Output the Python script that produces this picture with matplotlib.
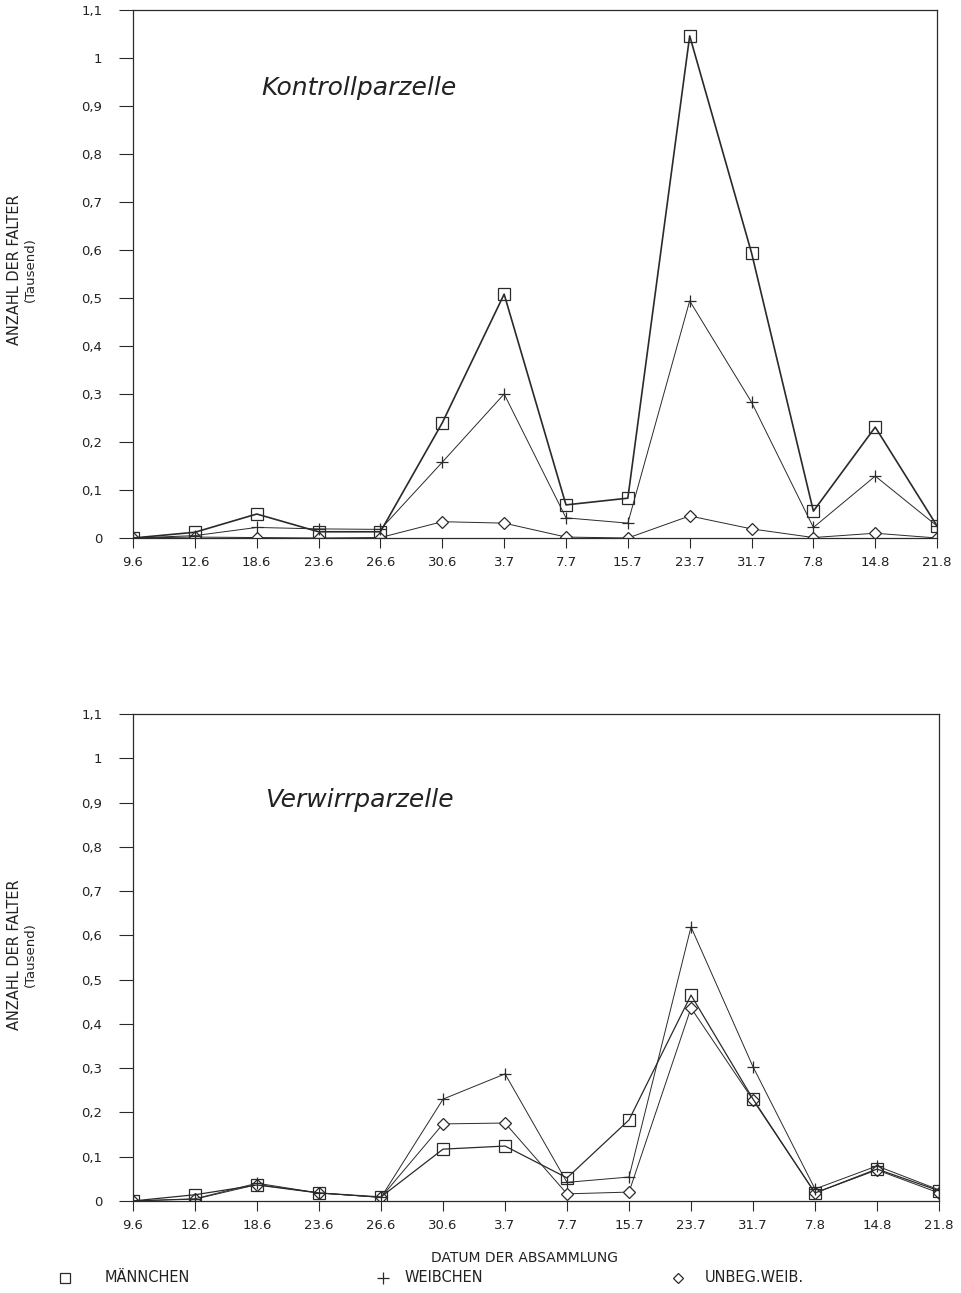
import matplotlib
matplotlib.use("Agg")
import matplotlib.pyplot as plt
from matplotlib.ticker import FuncFormatter

# Sammeltermine
dates = ["9.6", "12.6", "18.6", "23.6", "26.6", "30.6", "3.7", "7.7",
         "15.7", "23.7", "31.7", "7.8", "14.8", "21.8"]

# Kontrollparzelle (Tausend Falter)
k_maennchen = [0.0, 0.012, 0.050, 0.013, 0.013, 0.240, 0.508, 0.069,
               0.083, 1.046, 0.594, 0.056, 0.231, 0.025]
k_weibchen = [0.0, 0.005, 0.022, 0.019, 0.018, 0.158, 0.300, 0.042,
              0.031, 0.494, 0.283, 0.022, 0.129, 0.025]
k_unbeg = [0.0, 0.002, 0.001, 0.0, 0.001, 0.034, 0.031, 0.002,
           0.0, 0.046, 0.019, 0.001, 0.010, 0.0]

# Verwirrparzelle (Tausend Falter)
v_maennchen = [0.0, 0.014, 0.036, 0.018, 0.009, 0.117, 0.124, 0.052,
               0.183, 0.465, 0.230, 0.018, 0.072, 0.023]
v_weibchen = [0.0, 0.005, 0.040, 0.018, 0.008, 0.230, 0.287, 0.042,
              0.054, 0.619, 0.303, 0.027, 0.079, 0.025]
v_unbeg = [0.0, 0.004, 0.037, 0.018, 0.008, 0.174, 0.176, 0.016,
           0.020, 0.436, 0.228, 0.018, 0.070, 0.018]

yticks = [0, 0.1, 0.2, 0.3, 0.4, 0.5, 0.6, 0.7, 0.8, 0.9, 1.0, 1.1]

series_labels = ["MÄNNCHEN", "WEIBCHEN", "UNBEG.WEIB."]

plt.rcParams["font.family"] = ["DejaVu Sans"]
INK = "#2a2a2a"
TXT = "#222222"

fig = plt.figure(figsize=(9.62, 12.93), dpi=100)
ax_top = fig.add_axes([0.1383, 0.5839, 0.8358, 0.4084])
ax_bot = fig.add_axes([0.1383, 0.0712, 0.8378, 0.3766])

comma = FuncFormatter(lambda v, p: ("%g" % round(v, 2)).replace(".", ","))


def draw(ax, m, w, u, title, tx, ty, mlw):
    x = list(range(len(dates)))
    ax.plot(x, u, color=INK, lw=0.7, marker="D", ms=6.5, mfc="white",
            mec=INK, mew=0.9)
    ax.plot(x, w, color=INK, lw=0.7, marker="+", ms=8.5, mec=INK, mew=0.9)
    ax.plot(x, m, color=INK, lw=mlw, marker="s", ms=8.5, mfc="none",
            mec=INK, mew=0.9)
    ax.set_xlim(0, len(dates) - 1)
    ax.set_ylim(0, 1.1)
    ax.set_xticks(x)
    ax.set_xticklabels(dates, fontsize=9.5, color=TXT)
    ax.set_yticks(yticks)
    ax.yaxis.set_major_formatter(comma)
    ax.tick_params(axis="y", direction="out", length=10, width=0.8,
                   pad=12, labelsize=9.5, colors=INK, labelcolor=TXT)
    ax.tick_params(axis="x", direction="out", length=7, width=0.8,
                   pad=6, colors=INK, labelcolor=TXT)
    for s in ax.spines.values():
        s.set_color(INK)
        s.set_linewidth(0.9)
    ax.text(tx, ty, title, transform=ax.transAxes, fontsize=18,
            style="italic", color=TXT, va="center", ha="left")


draw(ax_top, k_maennchen, k_weibchen, k_unbeg, "Kontrollparzelle",
     0.160, 0.852, 1.2)
draw(ax_bot, v_maennchen, v_weibchen, v_unbeg, "Verwirrparzelle",
     0.164, 0.823, 0.9)

# Achsentitel links
for yc in (1 - 270 / 1293, 1 - 955 / 1293):
    fig.text(15 / 962, yc, "ANZAHL DER FALTER", rotation=90, fontsize=10.5,
             ha="center", va="center", color=TXT)
    fig.text(30 / 962, yc, "(Tausend)", rotation=90, fontsize=9.5,
             ha="center", va="center", color=TXT)

fig.text(525 / 962, 1 - 1258 / 1293, "DATUM DER ABSAMMLUNG", fontsize=10,
         ha="center", va="center", color=TXT)

# Legende
ly = 1 - 1278 / 1293
legend_items = [("s", 65, 105), ("+", 383, 405), ("D", 678, 705)]
sizes = {"s": 6.5, "+": 8, "D": 5}
for (mk, xm, xt), lab in zip(legend_items, series_labels):
    fig.lines.append(plt.Line2D([xm / 962], [ly], marker=mk, ms=sizes[mk],
                                mfc="none", mec=INK, mew=0.9, lw=0,
                                transform=fig.transFigure))
    fig.text(xt / 962, ly, lab, fontsize=10.5, ha="left", va="center",
             color=TXT)

fig.savefig("out.png", dpi=100, facecolor="white")
